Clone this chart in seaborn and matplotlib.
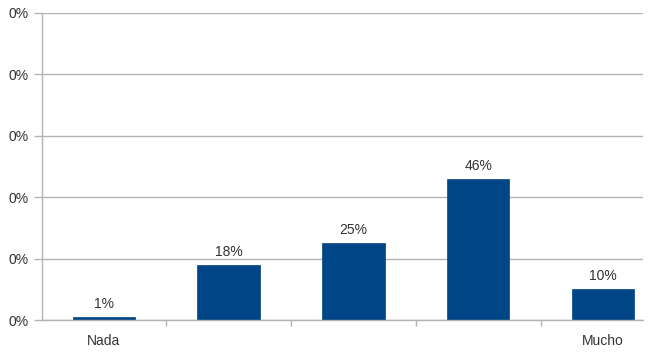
import matplotlib
matplotlib.use("Agg")
import matplotlib.pyplot as plt
import seaborn as sns
import pandas as pd
from matplotlib.ticker import FixedLocator, FuncFormatter

categories = ["Nada", "2", "3", "4", "Mucho"]
tick_labels = ["Nada", "", "", "", "Mucho"]
values = [0.01, 0.18, 0.25, 0.46, 0.10]
value_labels = ["1%", "18%", "25%", "46%", "10%"]
y_ticks = [0.0, 0.2, 0.4, 0.6, 0.8, 1.0]

sns.set_theme(style="white")
plt.rcParams["font.family"] = ["Liberation Sans", "DejaVu Sans"]

df = pd.DataFrame({"cat": categories, "val": values})

fig = plt.figure(figsize=(6.5, 3.57), dpi=100)
ax = fig.add_axes([41.5 / 650, 37 / 357, (643 - 41.5) / 650, 307 / 357])

sns.barplot(data=df, x="cat", y="val", order=categories, color="#004586",
            saturation=1, width=0.5, ax=ax, edgecolor="#004586", linewidth=0.5)

ax.set_ylim(0, 1.0)
ax.set_xlim(-0.5, 4.32)
ax.set_yticks(y_ticks)
ax.yaxis.set_major_formatter(FuncFormatter(lambda v, p: "0%"))
ax.yaxis.grid(True, color="#b3b3b3", linewidth=1)
ax.set_axisbelow(True)

ax.set_xticks(range(len(categories)))
ax.set_xticklabels(tick_labels)
ax.xaxis.set_minor_locator(FixedLocator([0.5, 1.5, 2.5, 3.5]))
ax.tick_params(axis="x", which="major", length=0, pad=10, labelsize=10, labelcolor="#333333")
ax.tick_params(axis="x", which="minor", length=4, width=1, color="#b3b3b3", direction="out", bottom=True)
ax.tick_params(axis="y", which="major", length=6, width=1, color="#b3b3b3", pad=3,
               labelsize=10, labelcolor="#333333", left=True)

for s in ["top", "right"]:
    ax.spines[s].set_visible(False)
ax.spines["left"].set_color("#b3b3b3")
ax.spines["bottom"].set_color("#b3b3b3")
ax.spines["left"].set_linewidth(1)
ax.spines["bottom"].set_linewidth(1)

ax.set_xlabel("")
ax.set_ylabel("")

for i, (v, lab) in enumerate(zip(values, value_labels)):
    ax.text(i, v + 0.02, lab, ha="center", va="bottom", fontsize=10, color="#333333")

fig.savefig("out.png", dpi=100)
